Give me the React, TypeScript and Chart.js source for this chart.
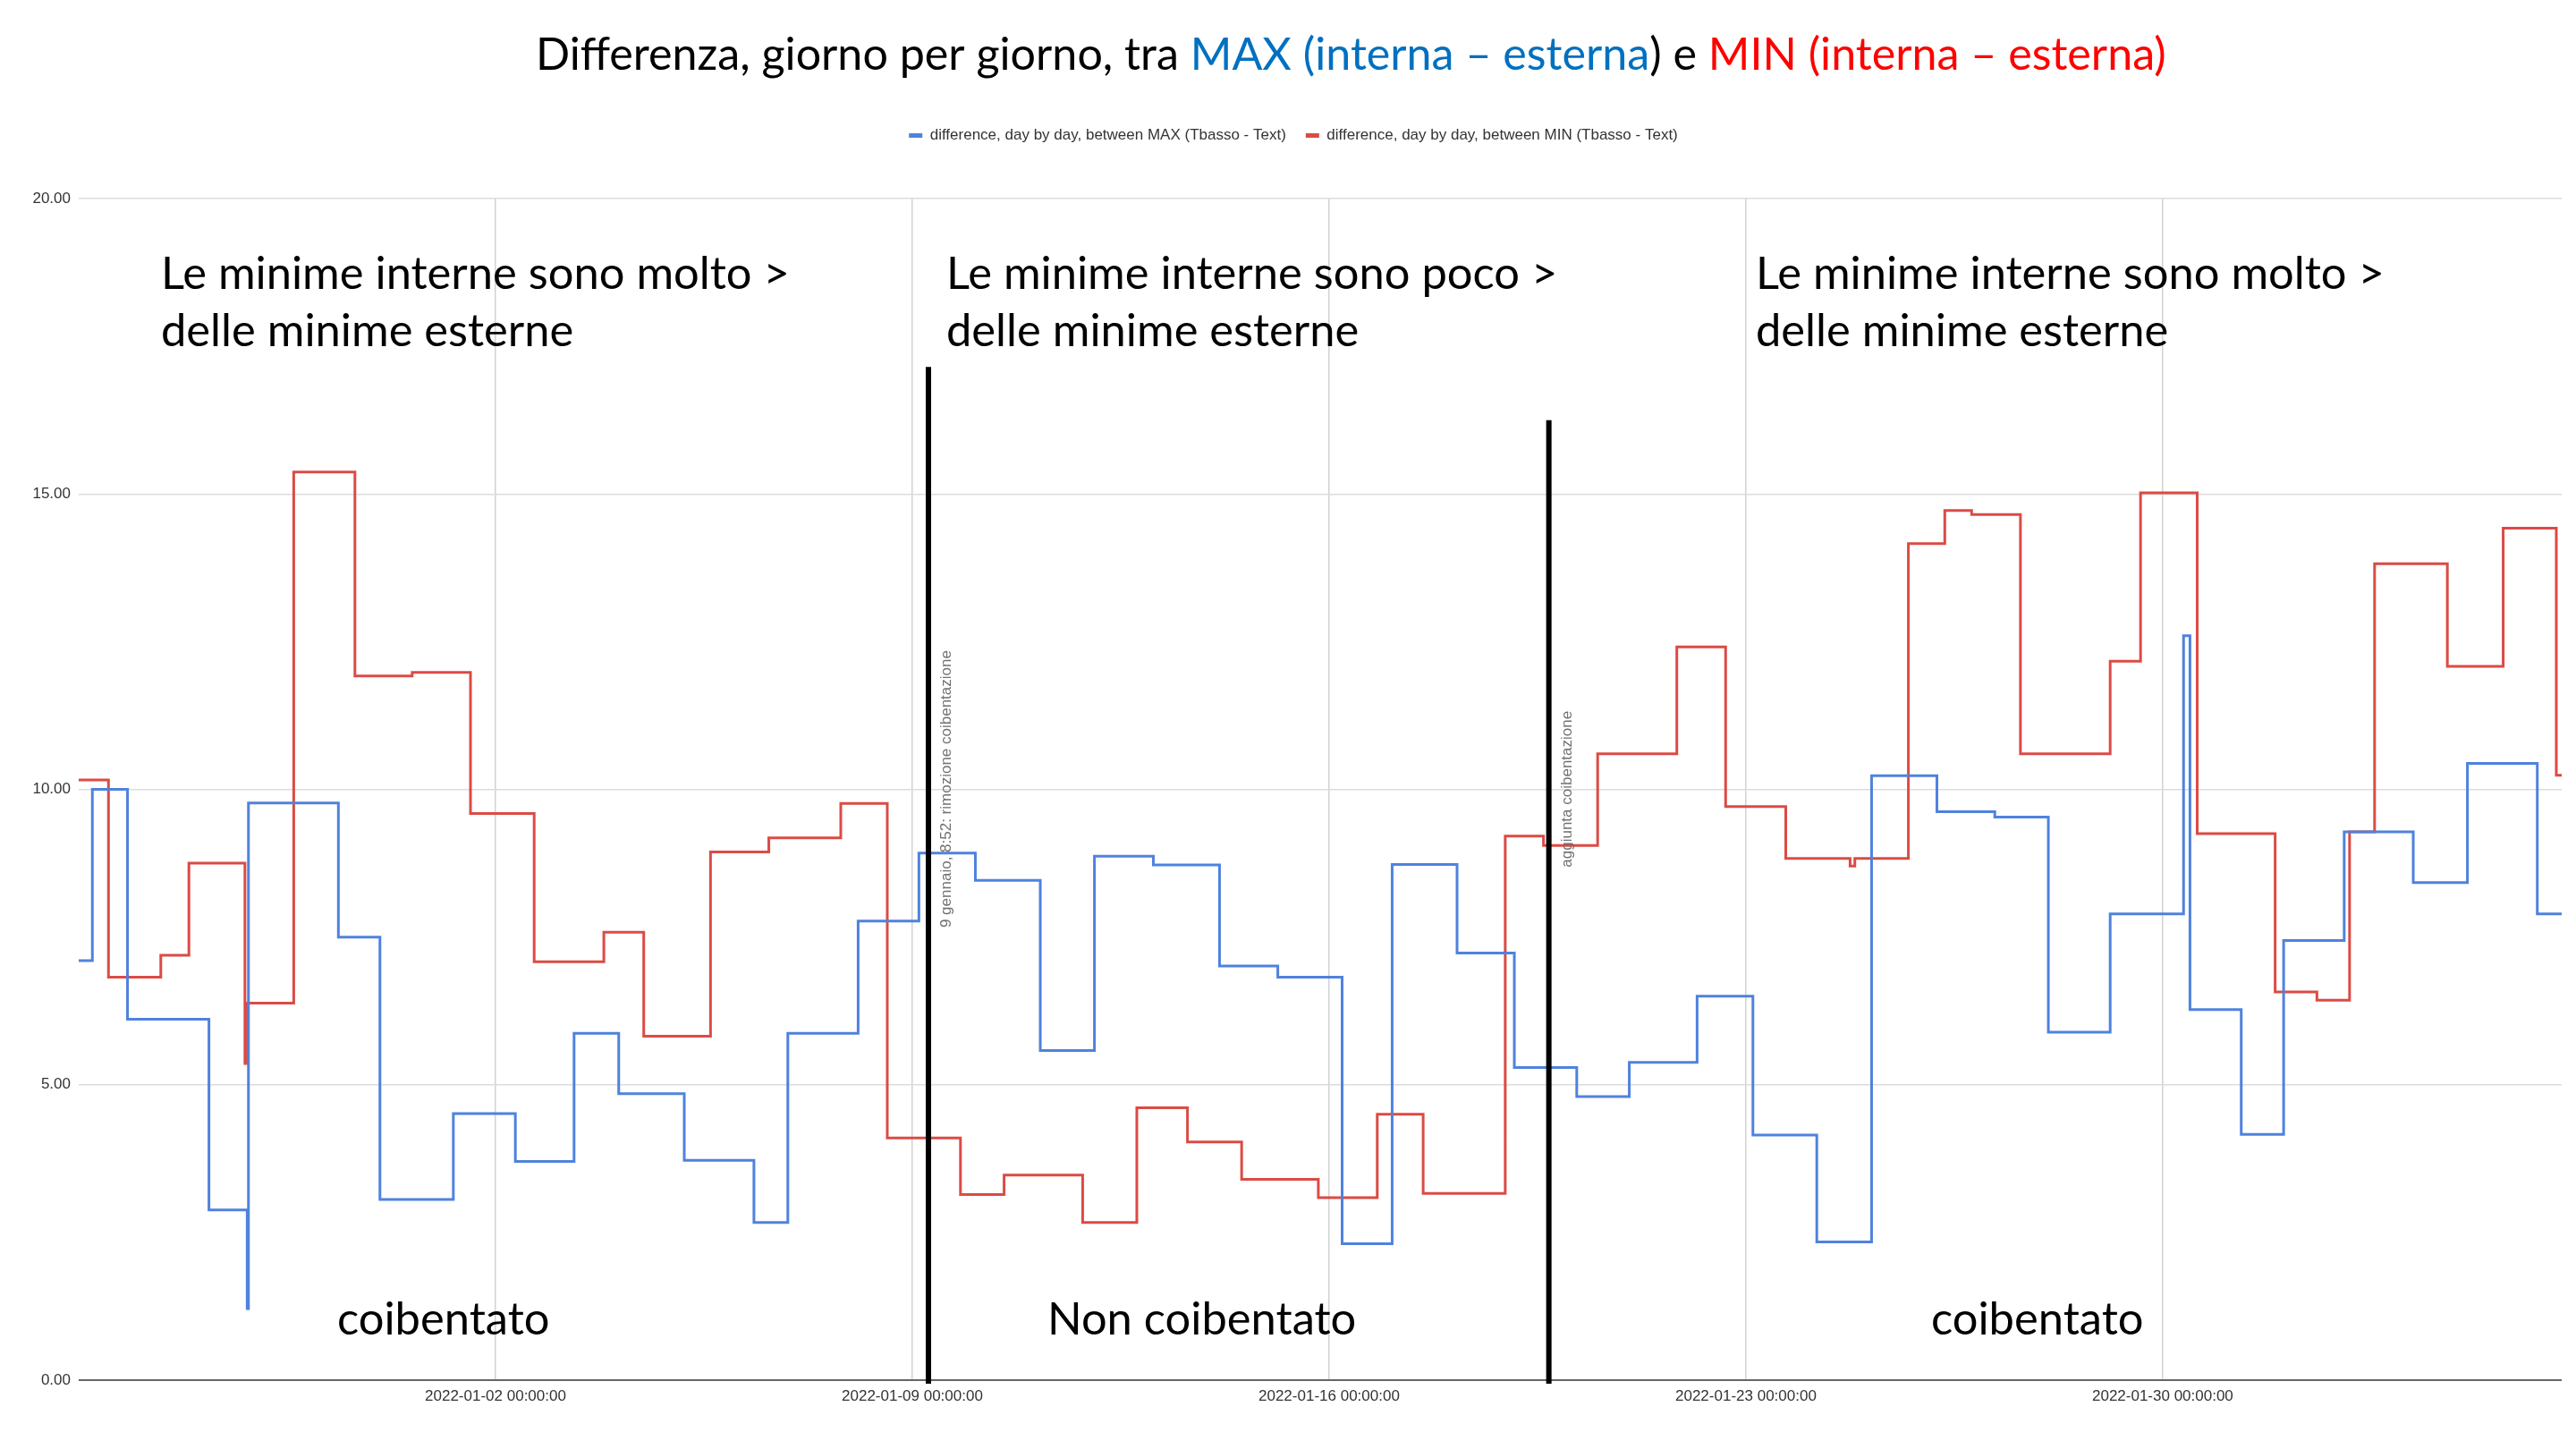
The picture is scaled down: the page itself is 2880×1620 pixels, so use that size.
import React, { useEffect, useRef } from "react";
import { Chart, registerables } from "chart.js";

Chart.register(...registerables);

// ---------- data ----------
const SERIES_LABELS = [
  "difference, day by day, between MAX (Tbasso - Text)",
  "difference, day by day, between MIN (Tbasso - Text)",
];

const maxTimes = [
  "2021-12-26 00:00", "2021-12-26 05:30", "2021-12-26 19:40", "2021-12-28 04:30",
  "2021-12-28 19:55", "2021-12-28 20:25", "2021-12-30 08:40", "2021-12-31 01:25",
  "2022-01-01 07:00", "2022-01-02 08:00", "2022-01-03 07:40", "2022-01-04 01:40",
  "2022-01-05 04:05", "2022-01-06 08:10", "2022-01-06 21:50", "2022-01-08 02:10",
  "2022-01-09 02:40", "2022-01-10 01:25", "2022-01-11 03:35", "2022-01-12 01:25",
  "2022-01-13 01:10", "2022-01-14 03:50", "2022-01-15 03:20", "2022-01-16 05:15",
  "2022-01-17 01:25", "2022-01-18 03:35", "2022-01-19 02:40", "2022-01-20 03:50",
  "2022-01-21 01:00", "2022-01-22 04:20", "2022-01-23 02:50", "2022-01-24 04:35",
  "2022-01-25 02:40", "2022-01-26 05:00", "2022-01-27 04:20", "2022-01-28 01:55",
  "2022-01-29 02:50", "2022-01-30 08:25", "2022-01-30 11:00", "2022-01-31 07:40",
  "2022-02-01 00:45", "2022-02-02 01:10", "2022-02-03 05:00", "2022-02-04 02:50",
  "2022-02-05 07:00", "2022-02-05 16:50",
];
const maxValues = [
  7.1, 10.0, 6.11, 2.88,
  1.21, 9.77, 7.5, 3.06,
  4.51, 3.7, 5.87, 4.85,
  3.72, 2.67, 5.87, 7.77,
  8.92, 8.46, 5.58, 8.87,
  8.72, 7.01, 6.82, 2.31,
  8.73, 7.23, 5.29, 4.8,
  5.38, 6.5, 4.15, 2.34,
  10.23, 9.62, 9.53, 5.89,
  7.89, 12.6, 6.27, 4.16,
  7.44, 9.28, 8.42, 10.44,
  7.89, 7.89,
];

const minTimes = [
  "2021-12-26 00:00", "2021-12-26 12:00", "2021-12-27 09:05", "2021-12-27 20:25",
  "2021-12-28 19:00", "2021-12-28 19:40", "2021-12-29 14:40", "2021-12-30 15:20",
  "2021-12-31 14:25", "2022-01-01 13:55", "2022-01-02 15:35", "2022-01-03 19:40",
  "2022-01-04 11:45", "2022-01-05 14:40", "2022-01-06 14:10", "2022-01-07 19:10",
  "2022-01-08 13:55", "2022-01-09 19:25", "2022-01-10 13:00", "2022-01-11 20:40",
  "2022-01-12 18:30", "2022-01-13 14:55", "2022-01-14 12:45", "2022-01-15 19:40",
  "2022-01-16 19:25", "2022-01-17 13:55", "2022-01-18 23:00", "2022-01-19 14:25",
  "2022-01-20 12:15", "2022-01-21 20:10", "2022-01-22 15:50", "2022-01-23 16:05",
  "2022-01-24 18:00", "2022-01-24 19:55", "2022-01-25 17:30", "2022-01-26 08:10",
  "2022-01-26 19:00", "2022-01-27 14:40", "2022-01-29 02:50", "2022-01-29 15:05",
  "2022-01-30 13:55", "2022-01-31 21:20", "2022-02-01 14:10", "2022-02-02 03:20",
  "2022-02-02 13:25", "2022-02-03 18:45", "2022-02-04 17:15", "2022-02-05 14:40",
  "2022-02-05 16:50",
];
const minValues = [
  10.16, 6.82, 7.19, 8.75,
  5.36, 6.38, 15.37, 11.92,
  11.98, 9.59, 7.08, 7.58,
  5.82, 8.94, 9.18, 9.76,
  4.1, 3.14, 3.47, 2.67,
  4.61, 4.03, 3.4, 3.09,
  4.5, 3.16, 9.21, 9.05,
  10.6, 12.41, 9.71, 8.83,
  8.7, 8.83, 14.16, 14.72,
  14.65, 10.6, 12.17, 15.02,
  9.25, 6.57, 6.43, 9.28,
  13.82, 12.08, 14.42, 10.24,
  10.24,
];

const X_START = "2021-12-26 00:00";
const X_END = "2022-02-05 16:50";
const X_TICKS = ["2022-01-02 00:00", "2022-01-09 00:00", "2022-01-16 00:00", "2022-01-23 00:00", "2022-01-30 00:00"];
const Y_MIN = 0;
const Y_MAX = 20;
const Y_STEP = 5;

// events (slide overlay)
const EVENT_LINE_TIMES = ["2022-01-09 06:30", "2022-01-19 16:35"];
const EVENT_LINE_TOPS = [17.15, 16.25];
const NOTE_TEXTS = ["9 gennaio, 8:52: rimozione coibentazione", "aggiunta coibentazione"];
const NOTE_TIMES = ["2022-01-09 13:55", "2022-01-20 00:00"];
const NOTE_BASES = [7.66, 8.68];

const TITLE_PARTS = [
  { text: "Differenza, giorno per giorno, tra ", color: "#000000" },
  { text: "MAX (interna – esterna", color: "#0070C0" },
  { text: ") e ", color: "#000000" },
  { text: "MIN (interna – esterna)", color: "#FF0000" },
];
const HEAD_LINES = [
  ["Le minime interne sono molto >", "delle minime esterne"],
  ["Le minime interne sono poco >", "delle minime esterne"],
  ["Le minime interne sono molto >", "delle minime esterne"],
];
const STATE_LABELS = ["coibentato", "Non coibentato", "coibentato"];

// ---------- layout / style ----------
const W = 2880;
const H = 1620;
const BIG_FONT = "Lato, 'Open Sans', sans-serif";
const SMALL_FONT = "'Liberation Sans', Arial, sans-serif";
const BLUE = "#4f82dd";
const RED = "#db4b45";
const LAYOUT = {
  titleLeft: 599,
  titleWidth: 1822,
  titleBaseline: 78,
  headX: [180, 1058, 1963],
  headBaselines: [323, 387],
  headRefWidth: 703,
  stateX: [377, 1171, 2159],
  stateBaseline: 1492,
  legendShift: 14,
  topPad: 121,
  legendHeight: 101,
};

function toMs(s: string): number {
  const [d, t] = s.split(" ");
  const [y, m, dd] = d.split("-").map(Number);
  const [hh, mm] = (t || "00:00").split(":").map(Number);
  return Date.UTC(y, m - 1, dd, hh, mm);
}

function fmtTick(v: number): string {
  const iso = new Date(v).toISOString();
  return iso.slice(0, 10) + " " + iso.slice(11, 19);
}

function fitSize(ctx: CanvasRenderingContext2D, text: string, family: string, target: number): number {
  ctx.font = `100px ${family}`;
  return (100 * target) / ctx.measureText(text).width;
}

const overlayPlugin = {
  id: "overlay",
  beforeLayout(chart: any) {
    const lg = chart.legend;
    if (lg && !lg._patchedFit) {
      const orig = lg.fit;
      lg.fit = function () {
        orig.call(this);
        this.height = LAYOUT.legendHeight;
      };
      lg._patchedFit = true;
    }
  },
  afterLayout(chart: any) {
    const lg = chart.legend;
    if (lg) {
      lg.left += LAYOUT.legendShift;
      lg.right += LAYOUT.legendShift;
    }
  },
  afterDraw(chart: any) {
    const { ctx, scales, chartArea } = chart;
    const xs = scales.x;
    const ys = scales.y;
    ctx.save();

    // title
    const titleText = TITLE_PARTS.map((p) => p.text).join("");
    const tSize = fitSize(ctx, titleText, BIG_FONT, LAYOUT.titleWidth);
    ctx.font = `${tSize}px ${BIG_FONT}`;
    ctx.textBaseline = "alphabetic";
    ctx.textAlign = "left";
    let cx = LAYOUT.titleLeft;
    TITLE_PARTS.forEach((p) => {
      ctx.fillStyle = p.color;
      ctx.fillText(p.text, cx, LAYOUT.titleBaseline);
      cx += ctx.measureText(p.text).width;
    });

    // separators
    EVENT_LINE_TIMES.forEach((t, i) => {
      const px = xs.getPixelForValue(toMs(t));
      ctx.beginPath();
      ctx.strokeStyle = "#000000";
      ctx.lineWidth = 6;
      ctx.moveTo(px, ys.getPixelForValue(EVENT_LINE_TOPS[i]));
      ctx.lineTo(px, chartArea.bottom + 4);
      ctx.stroke();
    });

    // rotated notes
    ctx.font = `17px ${SMALL_FONT}`;
    ctx.fillStyle = "#707070";
    ctx.textBaseline = "middle";
    NOTE_TEXTS.forEach((txt, i) => {
      const px = xs.getPixelForValue(toMs(NOTE_TIMES[i]));
      const py = ys.getPixelForValue(NOTE_BASES[i]);
      ctx.save();
      ctx.translate(px, py);
      ctx.rotate(-Math.PI / 2);
      ctx.textAlign = "left";
      ctx.fillText(txt, 0, 0);
      ctx.restore();
    });

    // big overlay texts
    const bSize = fitSize(ctx, HEAD_LINES[0][0], BIG_FONT, LAYOUT.headRefWidth);
    ctx.font = `${bSize}px ${BIG_FONT}`;
    ctx.fillStyle = "#000000";
    ctx.textAlign = "left";
    ctx.textBaseline = "alphabetic";
    HEAD_LINES.forEach((lines, i) => {
      lines.forEach((ln, j) => ctx.fillText(ln, LAYOUT.headX[i], LAYOUT.headBaselines[j]));
    });
    STATE_LABELS.forEach((s, i) => ctx.fillText(s, LAYOUT.stateX[i], LAYOUT.stateBaseline));

    ctx.restore();
  },
};

export default function App() {
  const ref = useRef<HTMLCanvasElement | null>(null);

  useEffect(() => {
    if (!ref.current) return;
    const maxData = maxTimes.map((t, i) => ({ x: toMs(t), y: maxValues[i] }));
    const minData = minTimes.map((t, i) => ({ x: toMs(t), y: minValues[i] }));
    const tickVals = X_TICKS.map(toMs);
    const yTicks: number[] = [];
    for (let v = Y_MIN; v <= Y_MAX; v += Y_STEP) yTicks.push(v);

    const chart = new Chart(ref.current, {
      type: "line",
      data: {
        datasets: [
          {
            label: SERIES_LABELS[0],
            data: maxData,
            borderColor: BLUE,
            backgroundColor: BLUE,
            borderWidth: 3,
            pointRadius: 0,
            stepped: true,
            fill: false,
          },
          {
            label: SERIES_LABELS[1],
            data: minData,
            borderColor: RED,
            backgroundColor: RED,
            borderWidth: 3,
            pointRadius: 0,
            stepped: true,
            fill: false,
          },
        ],
      },
      options: {
        responsive: false,
        devicePixelRatio: 1,
        animation: false,
        layout: { padding: { top: LAYOUT.topPad, right: 16, left: 0, bottom: 0 } },
        plugins: {
          legend: {
            display: true,
            position: "top",
            align: "center",
            labels: {
              boxWidth: 15,
              boxHeight: 5,
              padding: 22,
              color: "#333333",
              font: { size: 17, family: SMALL_FONT },
              generateLabels: (c: any) =>
                (Chart.defaults.plugins.legend.labels.generateLabels as any)(c).map((l: any) => ({
                  ...l,
                  lineWidth: 0,
                })),
            },
          },
          title: { display: false },
          tooltip: { enabled: false },
        },
        scales: {
          x: {
            type: "linear",
            min: toMs(X_START),
            max: toMs(X_END),
            afterFit: (s: any) => {
              s.height = 77;
            },
            afterBuildTicks: (s: any) => {
              s.ticks = tickVals.map((v) => ({ value: v }));
            },
            ticks: {
              autoSkip: false,
              maxRotation: 0,
              padding: 8,
              color: "#333333",
              font: { size: 17, family: SMALL_FONT },
              callback: (v: any) => fmtTick(Number(v)),
            },
            grid: { color: "#d2d2d2", lineWidth: 1.5, drawTicks: false },
            border: { display: false },
          },
          y: {
            type: "linear",
            min: Y_MIN,
            max: Y_MAX,
            afterFit: (s: any) => {
              s.width = 88;
            },
            afterBuildTicks: (s: any) => {
              s.ticks = yTicks.map((v) => ({ value: v }));
            },
            ticks: {
              padding: 9,
              color: "#333333",
              font: { size: 17, family: SMALL_FONT },
              callback: (v: any) => Number(v).toFixed(2),
            },
            grid: {
              color: (c: any) => (c.tick && c.tick.value === 0 ? "#666666" : "#dcdcdc"),
              lineWidth: (c: any) => (c.tick && c.tick.value === 0 ? 2 : 1.5),
              drawTicks: false,
            },
            border: { display: false },
          },
        },
      } as any,
      plugins: [overlayPlugin as any],
    });
    return () => chart.destroy();
  }, []);

  return (
    <div style={{ position: "fixed", left: 0, top: 0, width: W, height: H, background: "#ffffff" }}>
      <canvas ref={ref} width={W} height={H} style={{ display: "block", width: W, height: H }} />
    </div>
  );
}
